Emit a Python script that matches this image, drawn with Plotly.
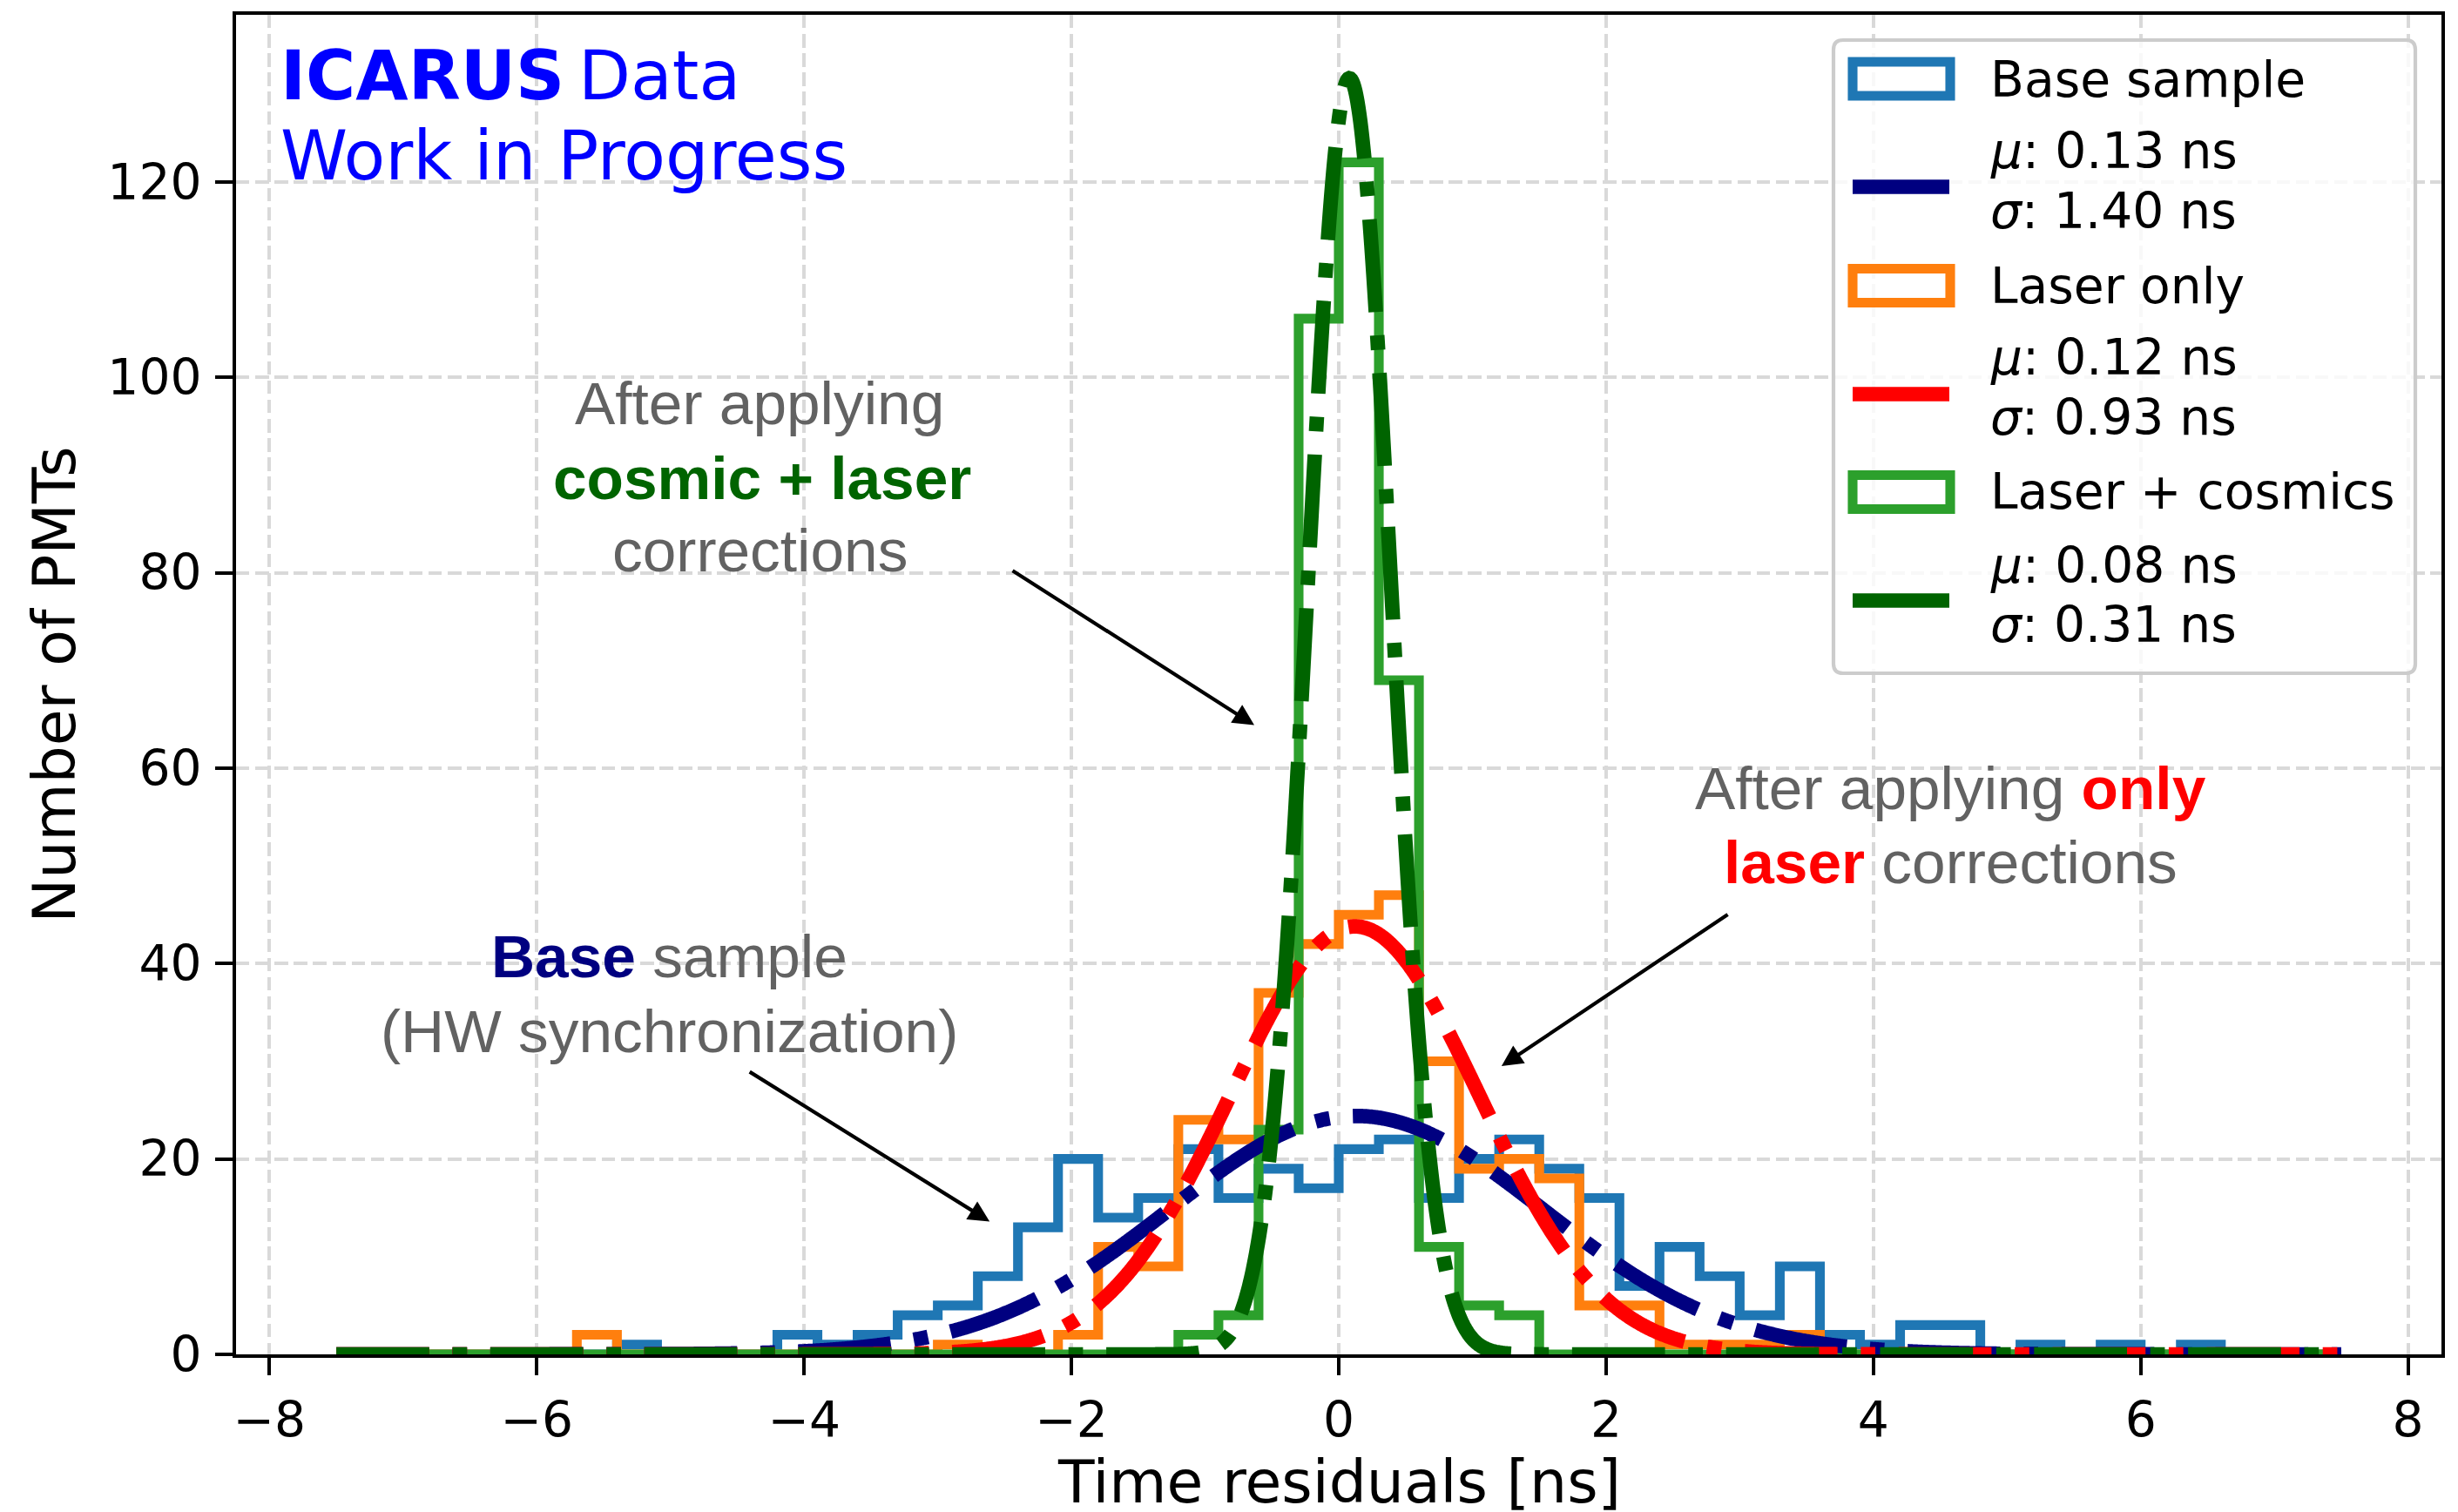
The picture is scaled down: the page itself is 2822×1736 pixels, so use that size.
import numpy as np
import plotly.graph_objects as go

# ---------------------------------------------------------------- data
# Histogram binning of the PMT time residuals (ns)
bin_lo, bin_hi, n_bins = -7.5, 7.5, 50

# Number of PMTs per 0.3 ns bin
base_counts = [0, 0, 0, 0, 0, 0, 0, 1, 0, 0,
               0, 2, 1, 2, 4, 5, 8, 13, 20, 14,
               16, 21, 16, 19, 17, 21, 22, 16, 20, 22,
               19, 16, 7, 11, 8, 4, 9, 2, 1, 3,
               3, 0, 1, 0, 1, 0, 1, 0, 0, 0]
laser_counts = [0, 0, 0, 0, 0, 0, 2, 0, 0, 0,
                0, 0, 0, 0, 0, 1, 0, 0, 2, 11,
                9, 24, 22, 37, 42, 45, 47, 30, 19, 20,
                18, 5, 5, 1, 1, 1, 2, 0, 0, 0,
                0, 0, 0, 0, 0, 0, 0, 0, 0, 0]
combined_counts = [0, 0, 0, 0, 0, 0, 0, 0, 0, 0,
                   0, 0, 0, 0, 0, 0, 0, 0, 0, 0,
                   0, 2, 4, 23, 106, 122, 69, 11, 5, 4,
                   0, 0, 0, 0, 0, 0, 0, 0, 0, 0,
                   0, 0, 0, 0, 0, 0, 0, 0, 0, 0]

sample_names = ["Base sample", "Laser only", "Laser + cosmics"]

# Gaussian fit results
fit_mu = [0.13, 0.12, 0.08]
fit_sigma = [1.40, 0.93, 0.31]
fit_amp = [24.4, 43.8, 130.6]

x_ticks = [-8, -6, -4, -2, 0, 2, 4, 6, 8]
y_ticks = [0, 20, 40, 60, 80, 100, 120]

# ---------------------------------------------------------------- style
W, H = 2822, 1736
ML, MR, MT, MB = 271, 19, 17, 181
PW, PH = W - ML - MR, H - MT - MB

hist_colors = ["#1f77b4", "#ff7f0e", "#2ca02c"]
fit_colors = ["#000080", "#ff0000", "#006400"]
HIST_LW = 11.1
FIT_LW = 16.7
FIT_DASH = "106.7px,26.7px,16.7px,26.7px"
NOTE_GRAY = "#626262"
MAIN_FONT = "DejaVu Sans"
NOTE_FONT = "Liberation Sans"
TICK_SIZE = 56.7
LEG_SIZE = 56.7
LABEL_SIZE = 68
TAG_SIZE = 78
NOTE_SIZE = 69.4


def xp(px):
    """pixel column -> paper x"""
    return (px - ML) / PW


def yp(py):
    """pixel row -> paper y"""
    return (H - MB - py) / PH


fig = go.Figure()

# step histograms
edges = np.linspace(bin_lo, bin_hi, n_bins + 1)
for counts, name, col in zip([base_counts, laser_counts, combined_counts],
                             sample_names, hist_colors):
    xs = np.concatenate([[edges[0]], edges])
    ys = np.concatenate([[0], counts, [0]])
    fig.add_trace(go.Scatter(x=xs, y=ys, mode="lines", name=name,
                             line=dict(color=col, width=HIST_LW, shape="hv", simplify=False),
                             showlegend=False, hoverinfo="skip"))

# gaussian fits
xf = np.linspace(bin_lo, bin_hi, 2000)
for mu, sig, amp, col in zip(fit_mu, fit_sigma, fit_amp, fit_colors):
    yf = amp * np.exp(-0.5 * ((xf - mu) / sig) ** 2)
    fig.add_trace(go.Scatter(x=xf, y=yf, mode="lines",
                             line=dict(color=col, width=FIT_LW, dash=FIT_DASH, simplify=False),
                             showlegend=False, hoverinfo="skip"))

shapes = []
annotations = []

# ---------------------------------------------------------------- legend
lx0, lx1, ly0, ly1, rad = 2105, 2773, 46, 773, 11
rx, ry = rad / PW, rad / PH
X0, X1, Y0, Y1 = xp(lx0), xp(lx1), yp(ly0), yp(ly1)
legend_path = (f"M{X0 + rx},{Y0} L{X1 - rx},{Y0} Q{X1},{Y0} {X1},{Y0 - ry} "
               f"L{X1},{Y1 + ry} Q{X1},{Y1} {X1 - rx},{Y1} L{X0 + rx},{Y1} "
               f"Q{X0},{Y1} {X0},{Y1 + ry} L{X0},{Y0 - ry} Q{X0},{Y0} {X0 + rx},{Y0} Z")
shapes.append(dict(type="path", xref="paper", yref="paper", path=legend_path,
                   fillcolor="rgba(255,255,255,0.8)", line=dict(color="#cccccc", width=4.2),
                   layer="above"))

patch_rows = [90.5, 328, 565]
line_rows = [214.5, 452.5, 689.5]
name_rows = [91, 328, 564]
param_rows = [(173, 242), (410, 479), (649, 717)]
text_x = 2283
leg_font = dict(family=MAIN_FONT, size=LEG_SIZE, color="black")
for k in range(3):
    shapes.append(dict(type="rect", xref="paper", yref="paper",
                       x0=xp(2127), x1=xp(2239),
                       y0=yp(patch_rows[k] - 19.5), y1=yp(patch_rows[k] + 19.5),
                       line=dict(color=hist_colors[k], width=HIST_LW),
                       fillcolor="rgba(0,0,0,0)", layer="above"))
    shapes.append(dict(type="line", xref="paper", yref="paper",
                       x0=xp(2127), x1=xp(2238), y0=yp(line_rows[k]), y1=yp(line_rows[k]),
                       line=dict(color=fit_colors[k], width=FIT_LW), layer="above"))
    annotations.append(dict(text=sample_names[k], x=xp(text_x), y=yp(name_rows[k]),
                            xref="paper", yref="paper", xanchor="left", yanchor="middle",
                            showarrow=False, font=leg_font))
    annotations.append(dict(text=f"<i>μ</i>: {fit_mu[k]:.2f} ns", x=xp(text_x),
                            y=yp(param_rows[k][0]), xref="paper", yref="paper",
                            xanchor="left", yanchor="middle", showarrow=False, font=leg_font))
    annotations.append(dict(text=f"<i>σ</i>: {fit_sigma[k]:.2f} ns", x=xp(text_x),
                            y=yp(param_rows[k][1]), xref="paper", yref="paper",
                            xanchor="left", yanchor="middle", showarrow=False, font=leg_font))

# ---------------------------------------------------------------- experiment tag
tag_font = dict(family=MAIN_FONT, size=TAG_SIZE, color="#0000ff")
annotations.append(dict(text="<b>ICARUS</b>", x=xp(320), y=yp(87), xref="paper", yref="paper",
                        xanchor="left", yanchor="middle", showarrow=False, font=tag_font))
annotations.append(dict(text="Data", x=xp(662), y=yp(87), xref="paper", yref="paper",
                        xanchor="left", yanchor="middle", showarrow=False, font=tag_font))
annotations.append(dict(text="Work in Progress", x=xp(320), y=yp(179), xref="paper", yref="paper",
                        xanchor="left", yanchor="middle", showarrow=False, font=tag_font))

# x-axis title
annotations.append(dict(text="Time residuals [ns]", x=0.5, y=yp(1701), xref="paper", yref="paper",
                        xanchor="center", yanchor="middle", showarrow=False,
                        font=dict(family=MAIN_FONT, size=LABEL_SIZE, color="black")))


# ---------------------------------------------------------------- call-outs
def note(text, cx, cy):
    annotations.append(dict(text=text, x=xp(cx), y=yp(cy), xref="paper", yref="paper",
                            xanchor="center", yanchor="middle", showarrow=False,
                            font=dict(family=NOTE_FONT, size=NOTE_SIZE, color=NOTE_GRAY)))


def bold(text, col):
    return f"<b><span style='color:{col}'>{text}</span></b>"


note("After applying", 872, 463)
note(bold("cosmic + laser", "#006400"), 875, 549)
note("corrections", 872, 632)

note("After applying " + bold("only", "#ff0000"), 2239, 905)
note(bold("laser", "#ff0000") + " corrections", 2239, 990)

note(bold("Base", "#000080") + " sample", 768, 1098)
note("(HW synchronization)", 768, 1184)

# arrows: (tail, head) in data units
arrows = [((-2.45, 80.3), (-0.632, 64.4)),
          ((2.92, 45.1), (1.218, 29.5)),
          ((-4.417, 29.0), (-2.612, 13.6))]
for (tx, ty), (hx, hy) in arrows:
    annotations.append(dict(text="", x=hx, y=hy, ax=tx, ay=ty, xref="x", yref="y",
                            axref="x", ayref="y", showarrow=True, arrowhead=2,
                            arrowsize=1.15, arrowwidth=4.2, arrowcolor="black", standoff=0))

axis_common = dict(ticks="outside", ticklen=20, tickwidth=4.2, tickcolor="black",
                   showline=True, linewidth=4.2, linecolor="black", mirror=True,
                   showgrid=True, gridcolor="#d9d9d9", gridwidth=4.2, griddash="15.4px,6.7px",
                   zeroline=False, automargin=False,
                   tickfont=dict(family=MAIN_FONT, size=TICK_SIZE, color="black"))

fig.update_layout(
    width=W, height=H, autosize=False,
    margin=dict(l=ML, r=MR, t=MT, b=MB, pad=0),
    paper_bgcolor="white", plot_bgcolor="white",
    showlegend=False,
    xaxis=dict(range=[-8.25, 8.25], tickmode="array", tickvals=x_ticks,
               ticklabelstandoff=3, **axis_common),
    yaxis=dict(range=[0, 137.1], tickmode="array", tickvals=y_ticks,
               ticklabelstandoff=4,
               title=dict(text="Number of PMTs", standoff=16,
                          font=dict(family=MAIN_FONT, size=LABEL_SIZE, color="black")),
               **axis_common),
    shapes=shapes,
    annotations=annotations,
)

fig.write_html("out.html")
